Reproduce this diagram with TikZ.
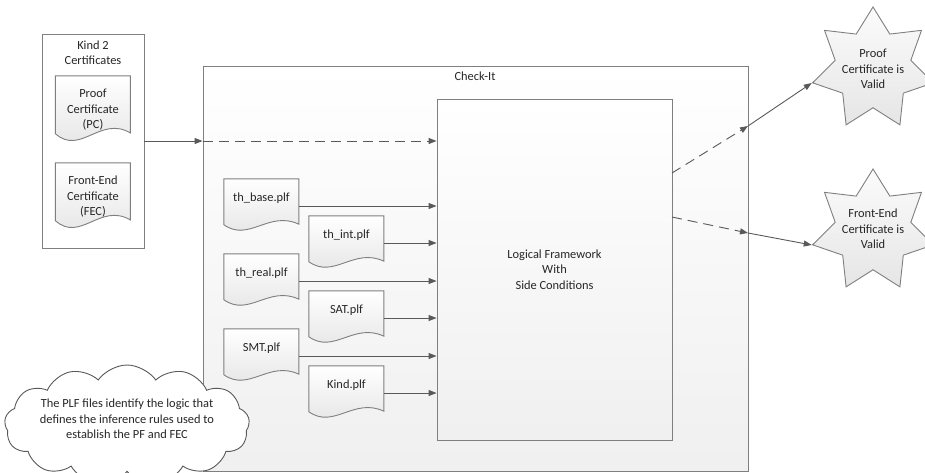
\documentclass[tikz,border=0pt]{standalone}
\usepackage{fontspec}
\setmainfont{Carlito}
\usetikzlibrary{arrows.meta,shapes.geometric,shapes.symbols}
\pgfdeclarelayer{bg}
\pgfsetlayers{bg,main}
\definecolor{edgegray}{HTML}{595959}
\definecolor{boxgray}{HTML}{7F7F7F}
\tikzset{
    every node/.style={font=\fontsize{12.4}{15.5}\selectfont, text=black!85, align=center}
}
\tikzset{
    box/.style={rectangle, draw=boxgray, line width=0.9pt, inner sep=0pt},
    cert/.style={rectangle, inner sep=0pt, minimum width=75pt, minimum height=68pt},
    plf/.style={rectangle, inner sep=0pt, minimum width=75pt, minimum height=54pt, text depth=17pt},
    docline/.style={draw=boxgray, line width=0.9pt, top color=white, bottom color=gray!22},
    docwave/.style={insert path={(0,0) -- (75,0) -- (75,0.84*#1) .. controls (45,0.58*#1) and (25,1.18*#1) .. (0,0.85*#1) -- cycle}},
    flow/.style={draw=edgegray, line width=0.9pt, -{Triangle[length=8pt,width=6pt]}},
    dflow/.style={flow, dash pattern=on 10pt off 6pt},
    burst/.style={star, star points=7, star point ratio=1.6, minimum size=124pt, inner sep=0pt, draw=boxgray, line width=0.9pt, top color=gray!3, bottom color=gray!20},
    note/.style={cloud, cloud puffs=13, cloud puff arc=110, minimum width=245pt, minimum height=120pt, inner sep=0pt, draw=edgegray, line width=0.9pt, fill=white}
}

\begin{document}
\begin{tikzpicture}[x=1pt, y=-1pt]
    \useasboundingbox (0,0) rectangle (925,472);

    \begin{pgfonlayer}{bg}
        \node (chk) [box, top color=white, bottom color=gray!12, minimum width=545pt, minimum height=405pt] at (475.5,268.5) {};
        \node (kind) [box, fill=white, minimum width=102pt, minimum height=214pt] at (93,141) {};
    \end{pgfonlayer}

    \node (kindlbl) at (93,52.5) {Kind 2\\Certificates};
    \node (chklbl) at (475,76) {Check-It};

    \node (pc) [cert] at (93,110) {Proof\\Certificate\\(PC)};
    \node (fec) [cert] at (93,197) {Front-End\\Certificate\\(FEC)};

    \node (base) [plf] at (261.5,206) {th\_base.plf};
    \node (int) [plf] at (346.5,243) {th\_int.plf};
    \node (real) [plf] at (261.5,281) {th\_real.plf};
    \node (sat) [plf] at (346.5,318) {SAT.plf};
    \node (smt) [plf] at (261.5,356) {SMT.plf};
    \node (kindplf) [plf] at (346.5,393) {Kind.plf};

    \begin{pgfonlayer}{bg}
        \draw[docline, shift={(pc.north west)}, docwave=68];
        \draw[docline, shift={(fec.north west)}, docwave=68];
        \draw[docline, shift={(base.north west)}, docwave=54];
        \draw[docline, shift={(int.north west)}, docwave=54];
        \draw[docline, shift={(real.north west)}, docwave=54];
        \draw[docline, shift={(sat.north west)}, docwave=54];
        \draw[docline, shift={(smt.north west)}, docwave=54];
        \draw[docline, shift={(kindplf.north west)}, docwave=54];
    \end{pgfonlayer}

    \node (lf) [box, top color=white, bottom color=gray!12, minimum width=235pt, minimum height=341pt] at (554.5,269.5) {Logical Framework\\With\\Side Conditions};

    \node (pcok) [burst, label=center:{Proof\\Certificate is\\Valid}] at (873,69) {};
    \node (fecok) [burst, label={[yshift=2pt]center:{Front-End\\Certificate is\\Valid}}] at (873,231) {};

    \node (plfnote) [note, label={[yshift=6pt]center:{The PLF files identify the logic that\\defines the inference rules used to\\establish the PF and FEC}}] at (127,425) {};

    \coordinate (o1) at (672,173);
    \coordinate (c1) at (748,126);
    \coordinate (o2) at (672,217);
    \coordinate (c2) at (748,233);

    \draw[flow] (kind.east) -- (kind.east -| chk.west);
    \draw[dflow] (kind.east -| chk.west) -- (kind.east -| lf.west);

    \draw[flow] (base.east) -- (base.east -| lf.west);
    \draw[flow] (int.east) -- (int.east -| lf.west);
    \draw[flow] (real.east) -- (real.east -| lf.west);
    \draw[flow] (sat.east) -- (sat.east -| lf.west);
    \draw[flow] (smt.east) -- (smt.east -| lf.west);
    \draw[flow] (kindplf.east) -- (kindplf.east -| lf.west);

    \draw[dflow] (o1) -- (c1);
    \draw[flow] (c1) -- (pcok.outer point 3);
    \draw[dflow] (o2) -- (c2);
    \draw[flow] (c2) -- (fecok.outer point 3);
\end{tikzpicture}
\end{document}
